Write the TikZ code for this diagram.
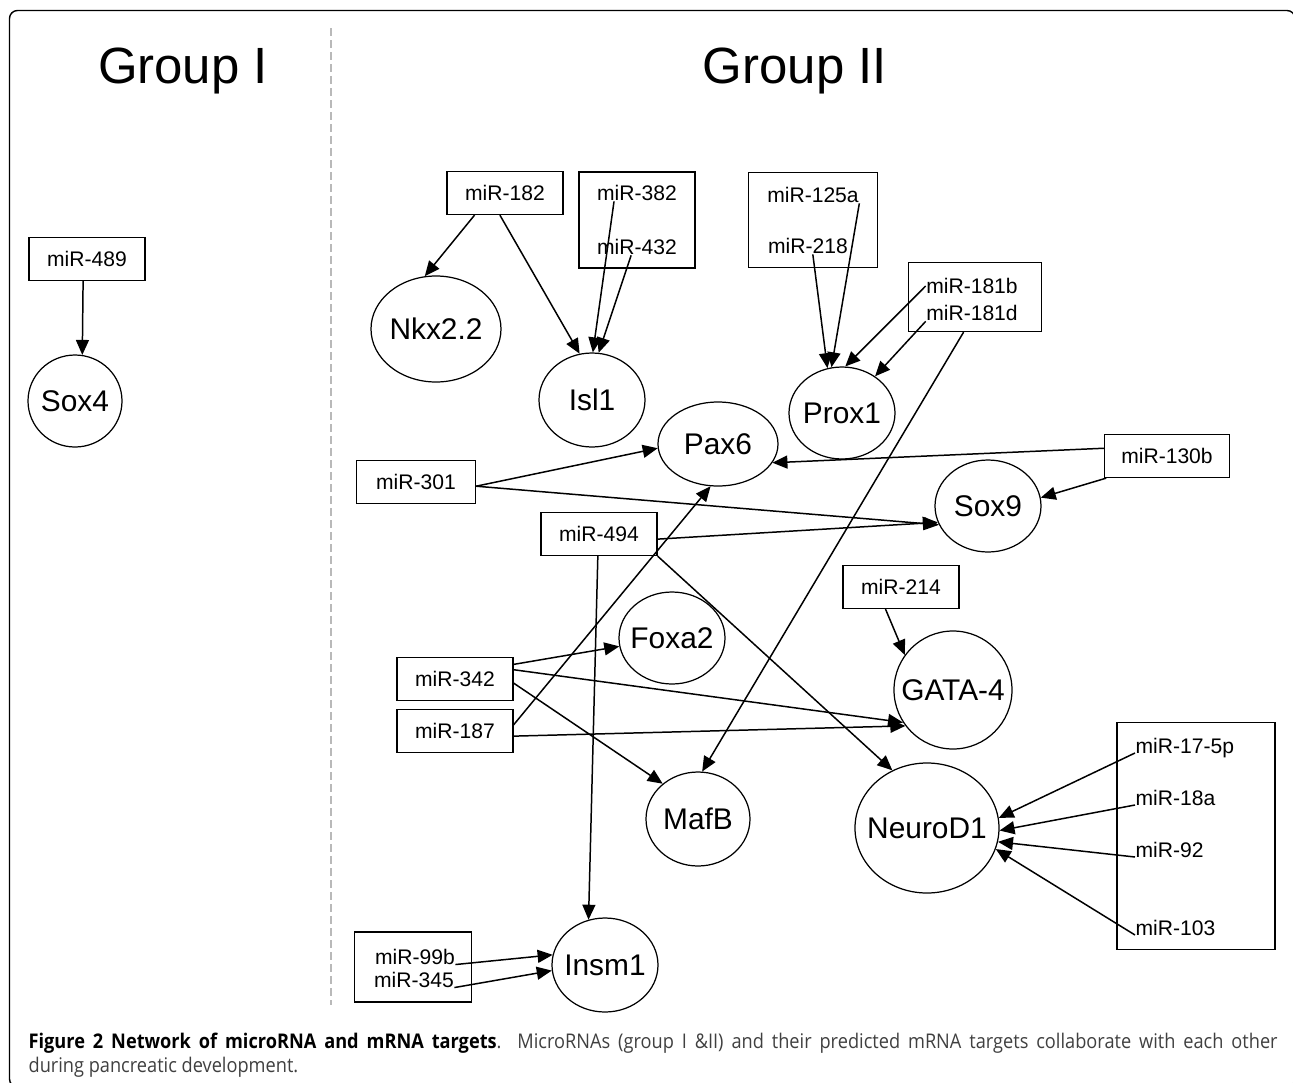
\documentclass[tikz,border=0pt]{standalone}
\usepackage{fontspec}
\setmainfont{Liberation Sans}
\newfontfamily\capfont[FakeStretch=0.9]{Open Sans}
\usetikzlibrary{arrows.meta,shapes.geometric}

\begin{document}
\begin{tikzpicture}[x=0.2mm, y=-0.2mm, line width=0.7pt,
  mir/.style = {draw, rectangle, inner sep=0pt, minimum width=#1*0.2mm, minimum height=43*0.2mm, font=\fontsize{12}{14}\selectfont},
  mir/.default = 116,
  grp/.style 2 args = {draw, rectangle, inner sep=0pt, minimum width=#1*0.2mm, minimum height=#2*0.2mm},
  lbl/.style = {inner sep=0pt, font=\fontsize{12}{14}\selectfont},
  gene/.style 2 args = {draw, ellipse, inner sep=0pt, minimum width=#1*0.4mm, minimum height=#2*0.4mm},
  every label/.style = {inner sep=0pt, font=\fontsize{17}{20}\selectfont},
  arr/.style = {-{Triangle[length=3mm, width=2.6mm]}, line width=0.85pt}]
  \useasboundingbox (0,0) rectangle (1293,1082);
  \draw[line width=0.8pt, rounded corners=1.6mm] (9.5,10.5) rectangle (1295,1087);
  \draw[gray!55, line width=1pt, dash pattern=on 1.6mm off 0.8mm] (331,28) -- (331,1005);
  \node[anchor=base, font=\fontsize{29}{34}\selectfont] (g1) at (183,83) {Group I};
  \node[anchor=base, font=\fontsize{29}{34}\selectfont] (g2) at (795,83) {Group II};
  % group I
  \node[mir] (m489) at (87,259) {miR-489};
  \node[gene={47}{46}, label=center:Sox4] (sox4) at (75,401) {};
  % group II genes
  \node[gene={65}{53}, label=center:Nkx2.2] (nkx) at (436,329) {};
  \node[gene={53}{47}, label=center:Isl1] (isl1) at (592,400) {};
  \node[gene={53}{46}, label=center:Prox1] (prox1) at (842,413) {};
  \node[gene={60}{42}, label=center:Pax6] (pax6) at (718,444) {};
  \node[gene={53}{46}, label=center:Sox9] (sox9) at (988,506) {};
  \node[gene={53}{46}, label=center:Foxa2] (foxa2) at (672,638) {};
  \node[gene={59}{59}, label=center:GATA-4] (gata) at (953,690) {};
  \node[gene={52}{47}, label=center:MafB] (mafb) at (698,819) {};
  \node[gene={72}{65}, label=center:NeuroD1] (neurod) at (927,828) {};
  \node[gene={53}{47}, label=center:Insm1] (insm1) at (605,965) {};
  % group II microRNAs
  \node[mir] (m182) at (505,193) {miR-182};
  \node[grp={116}{96}] (b382) at (637,220) {};
  \node[lbl] (m382) at (637,193) {miR-382};
  \node[lbl] (m432) at (637,247) {miR-432};
  \node[grp={129}{95}] (b125) at (813,220) {};
  \node[lbl] (m125) at (813,195) {miR-125a};
  \node[lbl] (m218) at (808,246) {miR-218};
  \node[grp={133}{69}] (b181) at (975,297) {};
  \node[lbl] (m181b) at (972,286) {miR-181b};
  \node[lbl] (m181d) at (972,313) {miR-181d};
  \node[mir=119] (m301) at (416,482) {miR-301};
  \node[mir=125] (m130) at (1167,456) {miR-130b};
  \node[mir] (m494) at (599,534) {miR-494};
  \node[mir] (m214) at (901,587) {miR-214};
  \node[mir] (m342) at (455,679) {miR-342};
  \node[mir] (m187) at (455,731) {miR-187};
  \node[grp={158}{227}] (b17) at (1196,836) {};
  \node[lbl, anchor=base west] (m175) at (1135,753) {miR-17-5p};
  \node[lbl, anchor=base west] (m18a) at (1135,805) {miR-18a};
  \node[lbl, anchor=base west] (m92) at (1135,857) {miR-92};
  \node[lbl, anchor=base west] (m103) at (1135,935) {miR-103};
  \node[grp={117}{70}] (b99) at (413,967) {};
  \node[lbl] (m99b) at (415,957) {miR-99b};
  \node[lbl] (m345) at (414,980) {miR-345};
  % edges
  \draw[arr] (m489.-100) -- (sox4.81);
  \draw[arr] (m182.-144) -- (nkx.102);
  \draw[arr] (m182.-103) -- (isl1.105);
  \draw[arr] (m382.-160) -- (isl1.89);
  \draw[arr] (m432.-125) -- (isl1.82);
  \draw[arr] (m125.south east) -- (prox1.103);
  \draw[arr] (m218.-60) -- (prox1.108);
  \draw[arr] (m181b.west) -- (prox1.86);
  \draw[arr] (m181d.south west) -- (prox1.48);
  \draw[arr] (b181.-108) -- (mafb.85);
  \draw[arr] (m301.-4) -- (pax6.184);
  \draw[arr] (m301.-4) -- (sox9.201);
  \draw[arr] (m130.173) -- (pax6.-19);
  \draw[arr] (m130.-160) -- (sox9.9);
  \draw[arr] (m494.-5) -- (sox9.198);
  \draw[arr] (m494.-93) -- (insm1.110);
  \draw[arr] (m494.south east) -- (neurod.121);
  \draw[arr] (m187.6) -- (pax6.-100);
  \draw[arr] (m342.14) -- (foxa2.189);
  \draw[arr] (m342.9) -- (gata.213);
  \draw[arr] (m187.-5) -- (gata.217);
  \draw[arr] (m342.-4) -- (mafb.135);
  \draw[arr] (m214.-125) -- (gata.144);
  \draw[arr] (m175.base west) -- (neurod.8);
  \draw[arr] (m18a.base west) -- (neurod.-2);
  \draw[arr] (m92.base west) -- (neurod.-11);
  \draw[arr] (m103.base west) -- (neurod.-17);
  \draw[arr] (m99b.base east) -- (insm1.169);
  \draw[arr] (m345.base east) -- (insm1.186);
  % caption
  \node[anchor=north west, inner sep=0pt, text width=249.8mm, align=justify,
    font=\capfont\fontsize{11.5}{14}\selectfont, text=black!75] (cap) at (28,1032)
    {\textcolor{black}{\bfseries Figure 2 Network of microRNA and mRNA targets}. MicroRNAs (group I \&II) and their predicted mRNA targets collaborate with each other\linebreak during pancreatic development.};
\end{tikzpicture}
\end{document}
